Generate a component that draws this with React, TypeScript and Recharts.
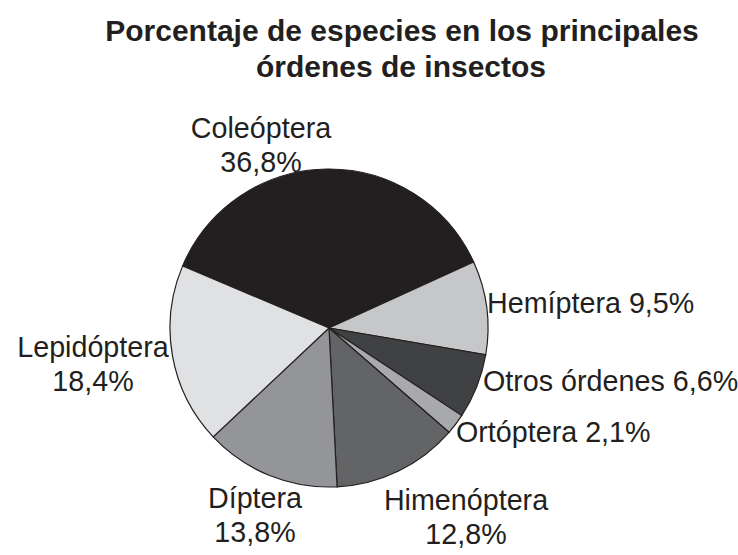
import { PieChart, Pie, Cell } from 'recharts';

// Porcentaje de especies por orden de insectos
const orders = [
  'Coleóptera',
  'Hemíptera',
  'Otros órdenes',
  'Ortóptera',
  'Himenóptera',
  'Díptera',
  'Lepidóptera',
];
const shares = [36.8, 9.5, 6.6, 2.1, 12.8, 13.8, 18.4];
const shareLabels = ['36,8%', '9,5%', '6,6%', '2,1%', '12,8%', '13,8%', '18,4%'];
const fills = ['#231f20', '#c6c7c9', '#404143', '#a7a9ac', '#636466', '#939598', '#e0e1e2'];

const data = orders.map((name, i) => ({ name, value: shares[i] }));

// label placement relative to pie centre: [dx, dy, twoLines]
const labelOffsets: [number, number, boolean][] = [
  [-68, -190, true],
  [158, -15, false],
  [154, 63, false],
  [127, 114, false],
  [137, 182, true],
  [-74, 180, true],
  [-236, 29, true],
];

const FONT = '"Liberation Sans", Arial, sans-serif';
const INK = '#231f20';

function renderLabel(props: any) {
  const { cx, cy, index } = props;
  const [dx, dy, twoLines] = labelOffsets[index];
  const x = cx + dx;
  const y = cy + dy;
  if (twoLines) {
    return (
      <text x={x} y={y} textAnchor="middle" fill={INK} fontSize={28.7} fontFamily={FONT}>
        <tspan x={x} y={y}>{orders[index]}</tspan>
        <tspan x={x} y={y + 34}>{shareLabels[index]}</tspan>
      </text>
    );
  }
  return (
    <text x={x} y={y} textAnchor="start" fill={INK} fontSize={28.7} fontFamily={FONT}>
      {`${orders[index]} ${shareLabels[index]}`}
    </text>
  );
}

export default function App() {
  return (
    <div style={{ position: 'absolute', left: 0, top: 0, width: 738, height: 555, background: '#fff' }}>
      <svg width={738} height={90} style={{ position: 'absolute', left: 0, top: 0 }}>
        <text x={402} y={41} textAnchor="middle" fill={INK} fontSize={30} fontWeight="bold" fontFamily={FONT}>
          Porcentaje de especies en los principales
        </text>
        <text x={401} y={77} textAnchor="middle" fill={INK} fontSize={30} fontWeight="bold" fontFamily={FONT}>
          órdenes de insectos
        </text>
      </svg>
      <div style={{ position: 'absolute', left: 0, top: 0 }}>
        <PieChart width={738} height={555} margin={{ top: 0, right: 0, bottom: 0, left: 0 }}>
          <Pie
            data={data}
            dataKey="value"
            nameKey="name"
            cx={329}
            cy={328}
            outerRadius={159}
            startAngle={157}
            endAngle={-203}
            stroke={INK}
            strokeWidth={1.2}
            labelLine={false}
            label={renderLabel}
            isAnimationActive={false}
          >
            {data.map((d, i) => (
              <Cell key={d.name} fill={fills[i]} />
            ))}
          </Pie>
        </PieChart>
      </div>
    </div>
  );
}
